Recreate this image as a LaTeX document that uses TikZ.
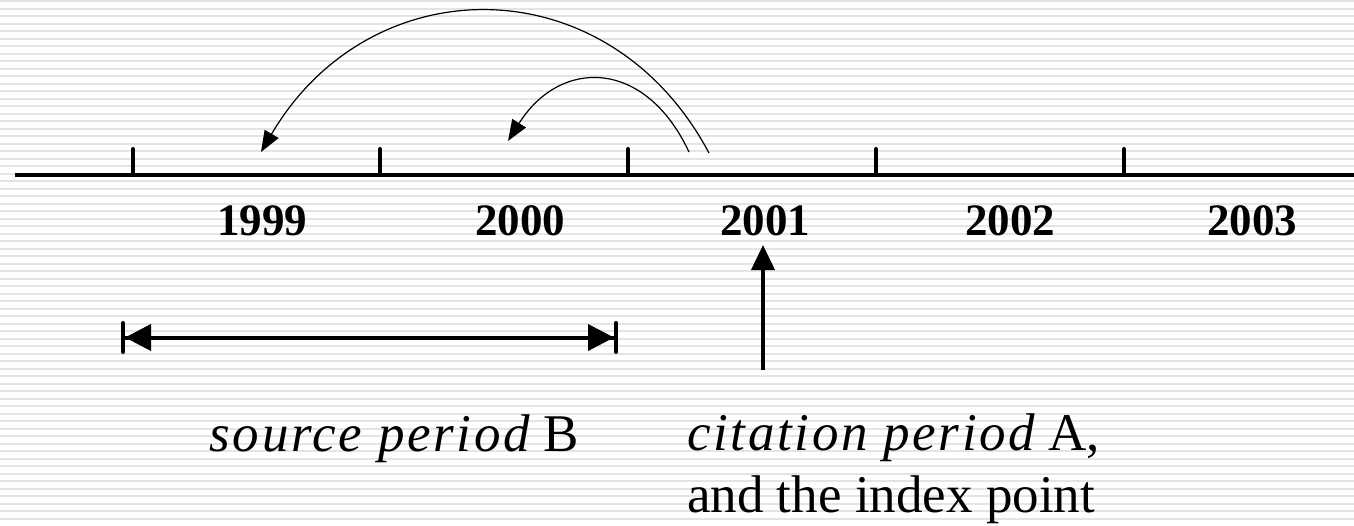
\documentclass[tikz,border=0pt]{standalone}
\usepackage{fontspec}
\setmainfont{Liberation Serif}
\newfontfamily\spacedfont[LetterSpace=5]{Liberation Serif}
\usepackage{tikz}
\usetikzlibrary{arrows.meta,positioning,calc}
\definecolor{stripe}{HTML}{E4E4E4}

\begin{document}
\begin{tikzpicture}[
  x=1pt,y=-1pt,
  stripeline/.style={draw=stripe,line width=2pt},
  axis/.style={draw=black,line width=4pt},
  tick/.style={draw=black,line width=4pt,line cap=round},
  year/.style={font=\bfseries\fontsize{45}{52}\selectfont,inner sep=0pt,anchor=base},
  jump/.style={-{Triangle[length=21pt,width=16pt]},draw=black,line width=1.2pt},
  span/.style={{Bar[width=29pt,round]Triangle[length=26pt,width=26pt]}-{Triangle[length=26pt,width=26pt]Bar[width=29pt,round]},
    draw=black,line width=4pt},
  pointer/.style={-{Triangle[length=25pt,width=23pt]},draw=black,line width=4pt},
  caption/.style={font=\fontsize{53}{62}\selectfont,inner sep=0pt}
]
\useasboundingbox (0,0) rectangle (1354,525);
\fill[white] (0,0) rectangle (1354,525);
\foreach \k in {0,...,69}
  \draw[stripeline] (0,\k*7.5+1) -- (1354,\k*7.5+1);

% time axis
\coordinate (axL) at (15,175);
\coordinate (axR) at (1354,175);
\draw[axis] (axL) -- (axR);
\foreach \t/\x in {a/133,b/380,c/628,d/876,e/1124}{
  \coordinate (tick\t) at (\x,175);
  \draw[tick] (tick\t) -- ++(0,-26);
}

\node[year] (y1999) at (262,235) {1999};
\node[year] (y2000) at (520,235) {2000};
\node[year] (y2001) at (765,235) {2001};
\node[year] (y2002) at (1010,235) {2002};
\node[year] (y2003) at (1252,235) {2003};

% citations back in time
\coordinate (farFrom) at (709,153);
\coordinate (farTo) at (261,152);
\coordinate (nearFrom) at (689,152);
\coordinate (nearTo) at (508,141);
\draw[jump] (farFrom) .. controls (609,-35) and (371,-35) .. (farTo);
\draw[jump] (nearFrom) .. controls (645,58) and (560,58) .. (nearTo);

% source window
\coordinate (srcL) at (121,337.5);
\coordinate (srcR) at (618,337.5);
\draw[span] (srcL) -- (srcR);

% index point
\coordinate (idxFoot) at (763,370);
\coordinate (idxHead) at (763,245);
\draw[pointer] (idxFoot) -- (idxHead);

\node[caption,anchor=base] (srcText) at (394,451) {{\spacedfont\itshape source period} B};
\node[caption,anchor=north west,align=left] (citeText) at (687,414)
  {{\spacedfont\itshape citation period} A,\\and the index point};
\end{tikzpicture}
\end{document}
